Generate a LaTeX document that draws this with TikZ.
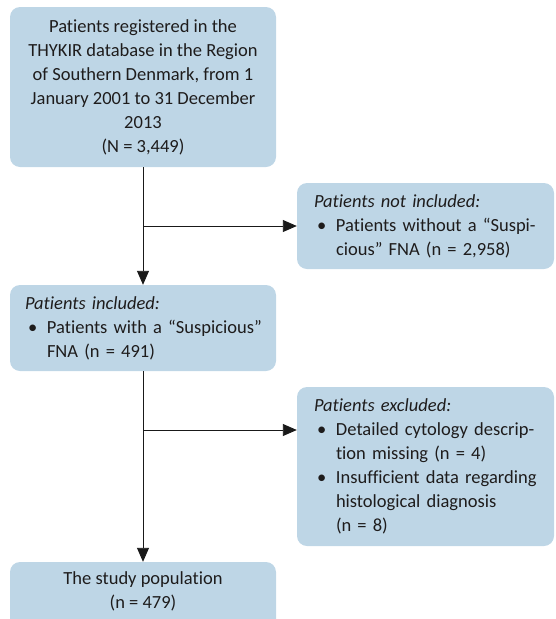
\documentclass[tikz,border=0pt]{standalone}
\usepackage{fontspec}
\setmainfont{Carlito}[Ligatures=NoCommon]
\usetikzlibrary{arrows.meta}
\definecolor{boxblue}{RGB}{190,214,230}
\definecolor{txtgray}{RGB}{30,28,28}
\tikzset{
  box/.style={fill=boxblue, rounded corners=10pt, inner sep=0pt, text=txtgray,
    font=\fontsize{18.5}{24}\selectfont},
  ctr/.style={align=center},
  conn/.style={draw=black!90, line width=0.9pt, -{Triangle[length=14pt,width=12pt]}}
}
\newcommand{\bul}{\makebox[22pt][l]{\hspace{3pt}\textbullet}}
\newcommand{\ind}{\hspace*{22pt}}
\begin{document}
\begin{tikzpicture}[x=1pt,y=-1pt]
\useasboundingbox (0,0) rectangle (555,619);
\clip (0,0) rectangle (555,619);
% boxes
\node[box, ctr, minimum width=266pt, minimum height=160pt] (b1) at (143,87)
  {Patients registered in the\\THYKIR database in the Region\\of Southern Denmark, from 1\\January 2001 to 31 December\\2013\\(N = 3,449)};
\node[box, minimum width=257pt, minimum height=86pt, text width=223pt, align=left] (b2) at (425.5,226)
  {\textit{Patients not included:}\\\bul\mbox{Patients without a “Suspi-}\\\ind\mbox{cious” FNA (n = 2,958)}};
\node[box, minimum width=266pt, minimum height=86pt, text width=236pt, align=left] (b3) at (143,328)
  {\textit{Patients included:}\\\bul\mbox{Patients with a “Suspicious”}\\\ind\mbox{FNA (n = 491)}};
\node[box, minimum width=257pt, minimum height=159pt, text width=223pt, align=left] (b4) at (425.5,466.5)
  {\textit{Patients excluded:}\\\bul\mbox{Detailed cytology descrip-}\\\ind\mbox{tion missing (n = 4)}\\\bul\mbox{Insufficient data regarding}\\\ind\mbox{histological diagnosis}\\\ind\mbox{(n = 8)}};
\node[box, minimum width=266pt, minimum height=80pt] (b5) at (143,602) {};
\node[text=txtgray, font=\fontsize{18.5}{24}\selectfont, align=center, inner sep=0pt] (t5) at (143,591)
  {The study population\\(n = 479)};
% connectors
\draw[conn] (b1.south) -- (b3.north);
\coordinate (j1) at (b1.south |- b2.west);
\draw[conn] (j1) -- (b2.west);
\draw[conn] (b3.south) -- (b5.north);
\coordinate (j2) at (143,430);
\draw[conn] (j2) -- (j2 -| b4.west);
\end{tikzpicture}
\end{document}
